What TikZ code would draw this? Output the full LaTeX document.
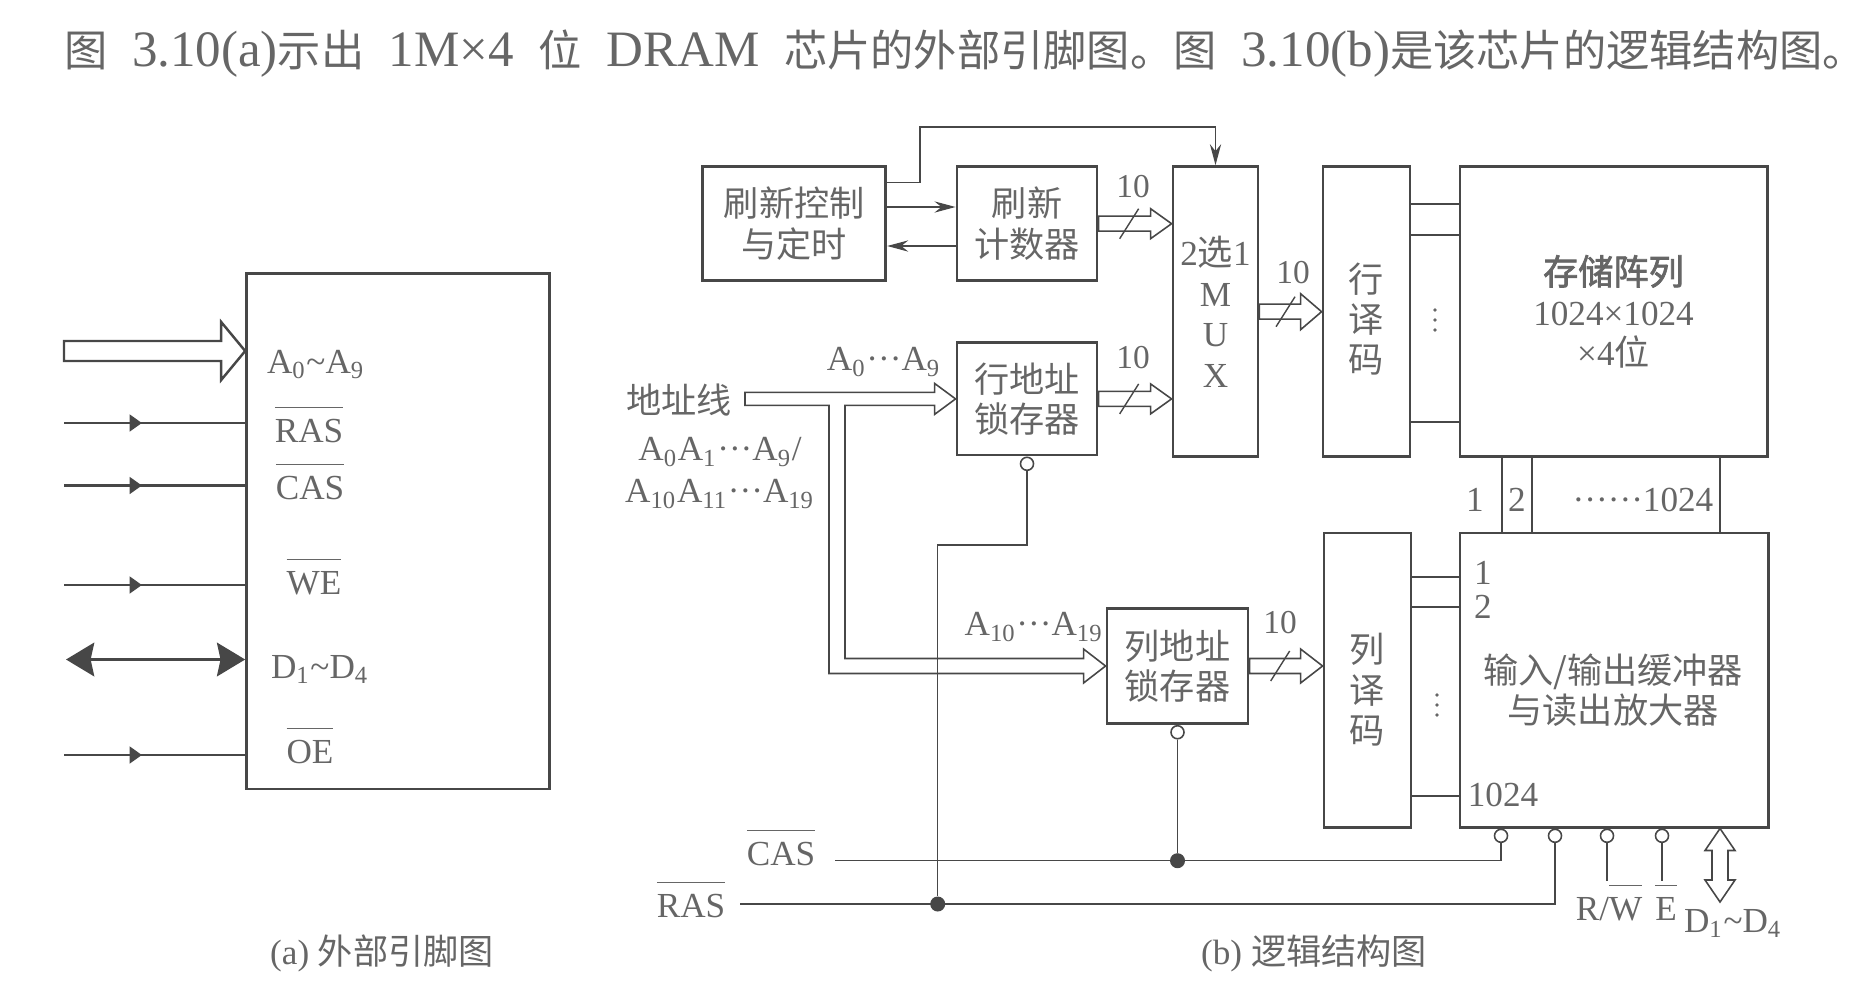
\documentclass[tikz,border=0pt]{standalone}
\usepackage{fontspec}
\setmainfont{Liberation Serif}
\newfontfamily\cjkfont{Noto Sans CJK SC}[AutoFakeBold=2]
\usetikzlibrary{arrows.meta, positioning, calc, decorations.markings}
\definecolor{linegray}{gray}{0.28}
\definecolor{textgray}{gray}{0.4}
\newcommand{\ovl}[1]{$\overline{\hbox{\strut #1}}$}
\newcommand{\headzh}[1]{{\cjkfont\fontsize{12.3}{14}\selectfont #1}}
% hollow block arrow: [opts]{from}{to}{shaft half}{head half}{head length}
\newcommand{\hollowbus}[6][]{%
  \draw[busline,#1] ($(#2)+(0,-#4)$) -- ($(#3)+(-#6,-#4)$) -- ($(#3)+(-#6,-#5)$) -- (#3)
    -- ($(#3)+(-#6,#5)$) -- ($(#3)+(-#6,#4)$) -- ($(#2)+(0,#4)$) -- cycle;}
\tikzset{
    block/.style = {rectangle, draw=linegray, line width=0.8pt, inner sep=0pt, align=center, text=textgray, font=\fontsize{10}{11.5}\selectfont\cjkfont},
    lbl/.style = {text=textgray, inner sep=0pt, align=center, font=\fontsize{10}{12}\selectfont},
    zhlbl/.style = {lbl, font=\fontsize{10}{11.5}\selectfont\cjkfont},
    num/.style = {lbl, font=\fontsize{9.5}{11}\selectfont},
    wire/.style = {draw=linegray, line width=0.4pt},
    arrow/.style = {wire, -{Stealth[length=6pt, width=3.2pt, inset=2pt]}},
    busline/.style = {draw=linegray, line width=0.45pt, line join=miter},
    bubble/.style = {circle, draw=linegray, line width=0.45pt, fill=white, minimum size=0.13cm, inner sep=0pt},
    junction/.style = {circle, fill=linegray, minimum size=0.15cm, inner sep=0pt},
    sigline/.style = {draw=linegray, line width=0.6pt, postaction={decorate},
        decoration={markings, mark=at position 0.43 with {\arrow{Triangle[length=3.5pt, width=4.8pt]}}}}
}
\begin{document}
\begin{tikzpicture}[x=0.01cm, y=-0.01cm]
\useasboundingbox (0,0) rectangle (1873,1000);

% heading
\node[lbl, font=\fontsize{14.5}{17}\selectfont] (title) at (965,54) {\headzh{图}\hspace{7pt}3.10(a)\headzh{示出}\hspace{7pt}1M×4\hspace{7pt}\headzh{位}\hspace{7pt}DRAM\hspace{7pt}\headzh{芯片的外部引脚图。图}\hspace{7pt}3.10(b)\headzh{是该芯片的逻辑结构图。}};

% (a) external pins
\node[block, line width=0.75pt, minimum width=3.03cm, minimum height=5.15cm] (chip) at (398.1,531.2) {};
\node[lbl, anchor=base] (pa) at (316,373) {A\textsubscript{0}\textasciitilde A\textsubscript{9}};
\node[lbl, anchor=base] (pras) at (309,442) {\ovl{RAS}};
\node[lbl, anchor=base] (pcas) at (310,499) {\ovl{CAS}};
\node[lbl, anchor=base] (pwe) at (314,594) {\ovl{WE}};
\node[lbl, anchor=base] (pd) at (320,678) {D\textsubscript{1}\textasciitilde D\textsubscript{4}};
\node[lbl, anchor=base] (poe) at (310,763) {\ovl{OE}};

\coordinate (ain) at (64,351);
\coordinate (aend) at (ain -| chip.west);
\hollowbus[line width=0.7pt]{ain}{aend}{10}{29}{24}
\foreach \y/\nm in {423/ras, 485.5/cas, 585/we, 755/oe} {
  \coordinate (\nm in) at (64,\y);
  \draw[sigline] (\nm in) -- (\nm in -| chip.west);
}
\coordinate (din) at (66,659.5);
\draw[draw=linegray, line width=1.1pt, {Stealth[length=8pt, width=9.5pt, inset=1pt]}-{Stealth[length=8pt, width=9.5pt, inset=1pt]}] (din) -- (din -| chip.west);

\node[lbl] (capa) at (382,953) {(a)~{\cjkfont 外部引脚图}};

% (b) logic structure
\node[block, minimum width=1.83cm, minimum height=1.14cm] (ctrl) at (794.2,223.7) {刷新控制\\与定时};
\node[block, minimum width=1.4cm, minimum height=1.14cm] (counter) at (1027,223.7) {刷新\\计数器};
\node[block, minimum width=1.4cm, minimum height=1.123cm] (rowlatch) at (1027,398.9) {行地址\\锁存器};
\node[block, minimum width=1.41cm, minimum height=1.15cm] (collatch) at (1177.5,666) {列地址\\锁存器};
\node[block, minimum width=0.85cm, minimum height=2.9cm] (mux) at (1215.5,311.7) {{\rmfamily 2}选{\rmfamily 1}\\{\rmfamily M}\\{\rmfamily U}\\{\rmfamily X}};
\node[block, minimum width=0.87cm, minimum height=2.9cm] (rowdec) at (1366.5,311.7) {};
\node[zhlbl] (rowdectext) at (1366.5,319) {行\\译\\码};
\node[block, minimum width=3.07cm, minimum height=2.9cm] (array) at (1613.5,311.7) {\textbf{存储阵列}\\{\rmfamily 1024×1024}\\{\rmfamily ×4}位};
\node[block, minimum width=0.87cm, minimum height=2.94cm] (coldec) at (1367.5,680) {};
\node[zhlbl] (coldectext) at (1367.5,690) {列\\译\\码};
\node[block, minimum width=3.08cm, minimum height=2.94cm] (iobuf) at (1614,680) {};
\node[zhlbl] (iotext) at (1613,690) {输入/输出缓冲器\\与读出放大器};

\node[zhlbl] (addr) at (679,400) {地址线};
\node[lbl] (rowbits) at (884,362) {A\textsubscript{0}···A\textsubscript{9}};
\node[lbl] (allbits) at (720,473) {A\textsubscript{0}A\textsubscript{1}···A\textsubscript{9}/\\A\textsubscript{10}A\textsubscript{11}···A\textsubscript{19}};
\node[lbl] (colbits) at (1034,627) {A\textsubscript{10}···A\textsubscript{19}};

% refresh loop
\draw[arrow] ($(ctrl.east)+(0,-41)$) -| (920,127) -| (mux.north);
\draw[arrow] ($(ctrl.east)+(0,-16.7)$) -- ($(counter.west)+(0,-16.7)$);
\draw[arrow] ($(counter.west)+(0,22.3)$) -- ($(ctrl.east)+(0,22.3)$);

% address bus
\coordinate (abus) at (745,398.9);
\draw[busline] ($(abus)+(0,-6.5)$) -- ($(rowlatch.west)+(-21,-6.5)$) -- ($(rowlatch.west)+(-21,-15.5)$) -- (rowlatch.west)
  -- ($(rowlatch.west)+(-21,15.5)$) -- ($(rowlatch.west)+(-21,6.5)$) -- (845,405.4) -- (845,658.5)
  -- ($(collatch.west)+(-22,-7.5)$) -- ($(collatch.west)+(-22,-17)$) -- (collatch.west)
  -- ($(collatch.west)+(-22,17)$) -- ($(collatch.west)+(-22,7.5)$) -- (829,673.5) -- (829,405.4)
  -- ($(abus)+(0,6.5)$) -- cycle;

% 10-bit buses
\coordinate (muxin1) at (mux.west |- counter.east);
\coordinate (muxin2) at (mux.west |- rowlatch.east);
\coordinate (decin1) at (rowdec.west |- mux.east);
\coordinate (decin2) at (coldec.west |- collatch.east);
\hollowbus{counter.east}{muxin1}{7.5}{15}{21}
\hollowbus{rowlatch.east}{muxin2}{7.5}{15}{21}
\hollowbus{mux.east}{decin1}{7.5}{18}{21}
\hollowbus{collatch.east}{decin2}{7.5}{17}{22}
\foreach \a/\b in {counter.east/muxin1, rowlatch.east/muxin2, mux.east/decin1, collatch.east/decin2}
  \draw[wire] ($(\a)!0.42!(\b)$) ++(-9.5,15) -- ++(19,-30);
\node[num, anchor=base] (w1) at (1133,197) {10};
\node[num, anchor=base] (w2) at (1133,368) {10};
\node[num, anchor=base] (w3) at (1293,283) {10};
\node[num, anchor=base] (w4) at (1280,633) {10};

% decoder outputs and bit lines
\foreach \y in {204,235,422} \draw[wire] (rowdec.east |- 0,\y) -- (array.west |- 0,\y);
\foreach \y in {577,607,796} \draw[wire] (coldec.east |- 0,\y) -- (iobuf.west |- 0,\y);
\foreach \x in {1502,1532,1720} \draw[wire] (array.south -| \x,0) -- (iobuf.north -| \x,0);
\foreach \d in {-10,0,10} {
  \fill[textgray] (1435,320+\d) circle (0.55pt);
  \fill[textgray] (1437,705+\d) circle (0.55pt);
}
\node[lbl] (b1) at (1475,500) {1};
\node[lbl] (b2) at (1517,500) {2};
\node[lbl] (bn) at (1643,500) {······1024};
\node[lbl] (c1) at (1483,573) {1};
\node[lbl] (c2) at (1483,607) {2};
\node[lbl] (cn) at (1503,795) {1024};

% strobes
\node[bubble, below=0pt of rowlatch] (rlbub) {};
\node[bubble, below=0pt of collatch] (clbub) {};
\foreach \x/\nm in {1501/casbub, 1555/rasbub, 1607/rwbub, 1662/ebub}
  \node[bubble, anchor=north] (\nm) at (iobuf.south -| \x,0) {};
\coordinate (rasin) at (740,904);
\coordinate (casin) at (835,860.7);
\draw[wire] (casin) -| (casbub.south);
\draw[wire] (rasin) -| (rasbub.south);
\node[junction] (rasdot) at (937.7,904) {};
\node[junction] (casdot) at (clbub.south |- 0,860.7) {};
\draw[wire] (rlbub.south) -- ++(0,74) -| (rasdot);
\draw[wire] (clbub.south) -- (casdot);
\draw[wire] (rwbub.south) -- ++(0,38);
\draw[wire] (ebub.south) -- ++(0,38);

% data bus
\coordinate (dbot) at (1720,902);
\coordinate (dtop) at (dbot |- iobuf.south);
\draw[busline] (dtop) -- ($(dtop)+(15,22)$) -- ($(dtop)+(8,22)$) -- ($(dbot)+(8,-22)$) -- ($(dbot)+(15,-22)$) -- (dbot)
  -- ($(dbot)+(-15,-22)$) -- ($(dbot)+(-8,-22)$) -- ($(dtop)+(-8,22)$) -- ($(dtop)+(-15,22)$) -- cycle;

\node[lbl, anchor=base] (caslbl) at (781,865) {\ovl{CAS}};
\node[lbl, anchor=base] (raslbl) at (691,917) {\ovl{RAS}};
\node[lbl, anchor=base] (rwlbl) at (1609,920) {R/\ovl{W}};
\node[lbl, anchor=base] (elbl) at (1666,920) {\ovl{E}};
\node[lbl, anchor=base] (dlbl) at (1733,932) {D\textsubscript{1}\textasciitilde D\textsubscript{4}};

\node[lbl] (capb) at (1314,953) {(b)~{\cjkfont 逻辑结构图}};
\end{tikzpicture}
\end{document}
